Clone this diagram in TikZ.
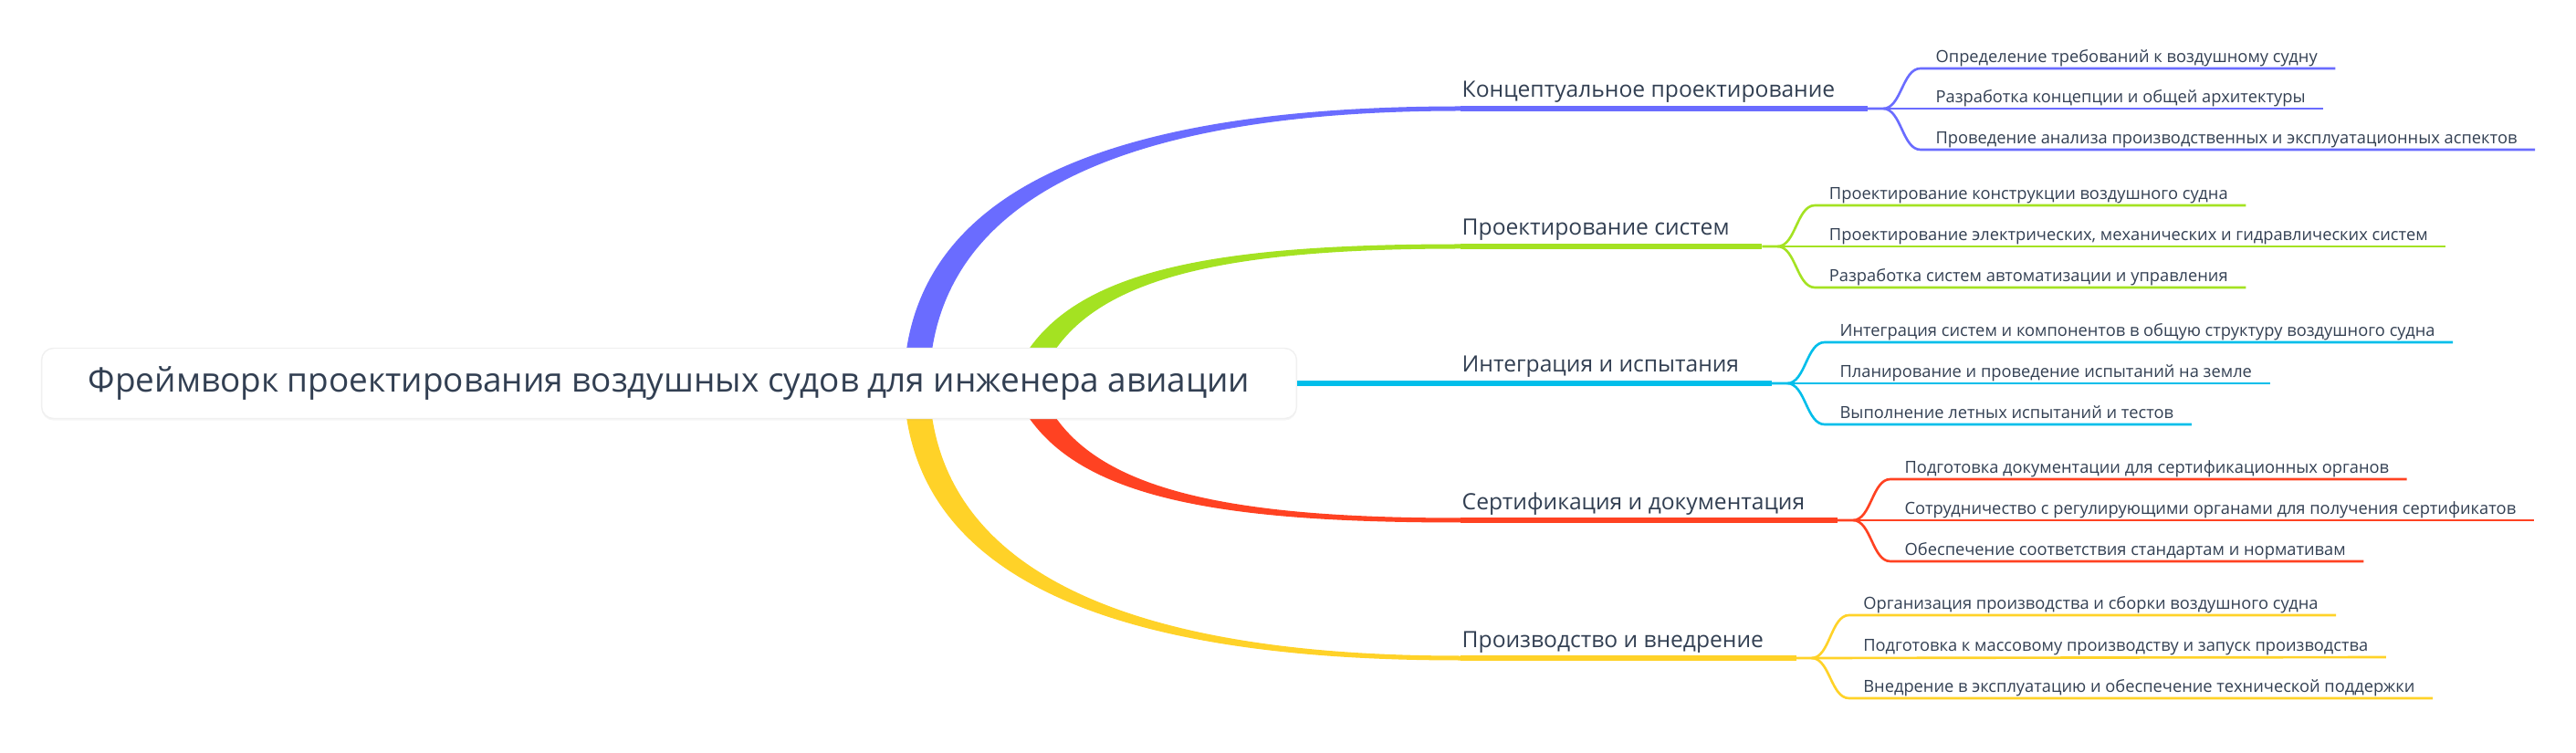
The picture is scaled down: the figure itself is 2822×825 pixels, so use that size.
\documentclass[tikz,border=0pt]{standalone}
\usepackage{fontspec}
\setmainfont{Open Sans}
\usetikzlibrary{calc,shadows,backgrounds}

\definecolor{txt}{RGB}{50,63,82}
\definecolor{cblue}{RGB}{106,108,255}
\definecolor{cgreen}{RGB}{164,226,34}
\definecolor{ccyan}{RGB}{0,190,234}
\definecolor{cred}{RGB}{255,66,34}
\definecolor{cyellow}{RGB}{255,210,40}

\tikzset{
  rootbox/.style={fill=white, draw=black!6, rounded corners=3.7pt, text=txt,
    minimum width=13.74cm, minimum height=0.77cm, inner sep=0pt,
    font=\fontsize{10.5}{12}\selectfont,
    drop shadow={shadow xshift=0pt, shadow yshift=-0.6pt, opacity=0.08}},
  topic/.style={anchor=base west, inner sep=0pt, text=txt, font=\fontsize{7.0}{8}\selectfont},
  subtopic/.style={anchor=base west, inner sep=0pt, text=txt, font=\fontsize{5.2}{6}\selectfont},
  topicline/.style={line width=1.45pt},
  subline/.style={line width=0.75pt},
}

\begin{document}
\begin{tikzpicture}[x=0.01cm, y=-0.01cm]
\useasboundingbox (0,0) rectangle (2822,825);

\node[rootbox] (root) at (733,420) {Фреймворк проектирования воздушных судов для инженера авиации};

\coordinate (b1) at (1600,119);
\coordinate (b2) at (1600,270);
\coordinate (b4) at (1600,570);
\coordinate (b5) at (1600,721);

\begin{scope}[on background layer]
\fill[cblue] (990,425) .. controls (990,192) and (1250,116.5) .. ($(b1)+(0,-2.5)$)
  -- ($(b1)+(0,2.5)$) .. controls (1262,121.5) and (1018,202) .. (1018,425) -- cycle;
\fill[cgreen] (1104,430) .. controls (1144,302) and (1300,267.5) .. ($(b2)+(0,-2.5)$)
  -- ($(b2)+(0,2.5)$) .. controls (1312,272.5) and (1168,312) .. (1134,430) -- cycle;
\fill[cred] (1104,410) .. controls (1144,538) and (1300,572.5) .. ($(b4)+(0,2.5)$)
  -- ($(b4)+(0,-2.5)$) .. controls (1312,567.5) and (1168,528) .. (1134,410) -- cycle;
\fill[cyellow] (990,415) .. controls (990,648) and (1250,723.5) .. ($(b5)+(0,2.5)$)
  -- ($(b5)+(0,-2.5)$) .. controls (1262,718.5) and (1018,638) .. (1018,415) -- cycle;
\end{scope}

% Концептуальное проектирование
\node[topic] (t1) at (1601,107) {Концептуальное проектирование};
\coordinate (t1e) at ($(t1.base east)+(35,12)$);
\coordinate (f1) at ($(t1e)+(17,0)$);
\draw[topicline,cblue] (b1) -- (t1e);
\node[subtopic] (s11) at ($(f1)+(57,-50.5)$) {Определение требований к воздушному судну};
\node[subtopic] (s12) at ($(f1)+(57,-6.5)$) {Разработка концепции и общей архитектуры};
\node[subtopic] (s13) at ($(f1)+(57,38.5)$) {Проведение анализа производственных и эксплуатационных аспектов};
\draw[subline,cblue] (t1e) -- (f1) .. controls +(20,0) and +(-20,0) .. ($(f1)+(41,-44)$) -- ($(s11.base east)+(19,6.5)$);
\draw[subline,cblue] (f1) -- ($(s12.base east)+(19,6.5)$);
\draw[subline,cblue] (f1) .. controls +(20,0) and +(-20,0) .. ($(f1)+(41,45)$) -- ($(s13.base east)+(19,6.5)$);

% Проектирование систем
\node[topic] (t2) at (1601,258) {Проектирование систем};
\coordinate (t2e) at ($(t2.base east)+(35,12)$);
\coordinate (f2) at ($(t2e)+(17,0)$);
\draw[topicline,cgreen] (b2) -- (t2e);
\node[subtopic] (s21) at ($(f2)+(56,-51.5)$) {Проектирование конструкции воздушного судна};
\node[subtopic] (s22) at ($(f2)+(56,-6.5)$) {Проектирование электрических, механических и гидравлических систем};
\node[subtopic] (s23) at ($(f2)+(56,38.5)$) {Разработка систем автоматизации и управления};
\draw[subline,cgreen] (t2e) -- (f2) .. controls +(20,0) and +(-20,0) .. ($(f2)+(41,-45)$) -- ($(s21.base east)+(19,6.5)$);
\draw[subline,cgreen] (f2) -- ($(s22.base east)+(19,6.5)$);
\draw[subline,cgreen] (f2) .. controls +(20,0) and +(-20,0) .. ($(f2)+(41,45)$) -- ($(s23.base east)+(19,6.5)$);

% Интеграция и испытания
\node[topic] (t3) at (1601,408) {Интеграция и испытания};
\coordinate (t3e) at ($(t3.base east)+(35,12)$);
\coordinate (f3) at ($(t3e)+(17,0)$);
\draw[line width=1.7pt,ccyan] (root.east) -- (t3e);
\node[subtopic] (s31) at ($(f3)+(57,-51.5)$) {Интеграция систем и компонентов в общую структуру воздушного судна};
\node[subtopic] (s32) at ($(f3)+(57,-6.5)$) {Планирование и проведение испытаний на земле};
\node[subtopic] (s33) at ($(f3)+(57,38.5)$) {Выполнение летных испытаний и тестов};
\draw[subline,ccyan] (t3e) -- (f3) .. controls +(20,0) and +(-20,0) .. ($(f3)+(41,-45)$) -- ($(s31.base east)+(19,6.5)$);
\draw[subline,ccyan] (f3) -- ($(s32.base east)+(19,6.5)$);
\draw[subline,ccyan] (f3) .. controls +(20,0) and +(-20,0) .. ($(f3)+(41,45)$) -- ($(s33.base east)+(19,6.5)$);

% Сертификация и документация
\node[topic] (t4) at (1601,558) {Сертификация и документация};
\coordinate (t4e) at ($(t4.base east)+(35,12)$);
\coordinate (f4) at ($(t4e)+(17,0)$);
\draw[topicline,cred] (b4) -- (t4e);
\node[subtopic] (s41) at ($(f4)+(56,-51.5)$) {Подготовка документации для сертификационных органов};
\node[subtopic] (s42) at ($(f4)+(56,-6.5)$) {Сотрудничество с регулирующими органами для получения сертификатов};
\node[subtopic] (s43) at ($(f4)+(56,38.5)$) {Обеспечение соответствия стандартам и нормативам};
\draw[subline,cred] (t4e) -- (f4) .. controls +(20,0) and +(-20,0) .. ($(f4)+(41,-45)$) -- ($(s41.base east)+(19,6.5)$);
\draw[subline,cred] (f4) -- ($(s42.base east)+(19,6.5)$);
\draw[subline,cred] (f4) .. controls +(20,0) and +(-20,0) .. ($(f4)+(41,45)$) -- ($(s43.base east)+(19,6.5)$);

% Производство и внедрение
\node[topic] (t5) at (1601,709) {Производство и внедрение};
\coordinate (t5e) at ($(t5.base east)+(35,12)$);
\coordinate (f5) at ($(t5e)+(17,0)$);
\draw[topicline,cyellow] (b5) -- (t5e);
\node[subtopic] (s51) at ($(f5)+(56,-53.5)$) {Организация производства и сборки воздушного судна};
\node[subtopic] (s52) at ($(f5)+(56,-7.5)$) {Подготовка к массовому производству и запуск производства};
\node[subtopic] (s53) at ($(f5)+(56,37.5)$) {Внедрение в эксплуатацию и обеспечение технической поддержки};
\draw[subline,cyellow] (t5e) -- (f5) .. controls +(20,0) and +(-20,0) .. ($(f5)+(41,-47)$) -- ($(s51.base east)+(19,6.5)$);
\draw[subline,cyellow] (f5) -- ($(s52.base east)+(19,6.5)$);
\draw[subline,cyellow] (f5) .. controls +(20,0) and +(-20,0) .. ($(f5)+(41,44)$) -- ($(s53.base east)+(19,6.5)$);

\end{tikzpicture}
\end{document}
